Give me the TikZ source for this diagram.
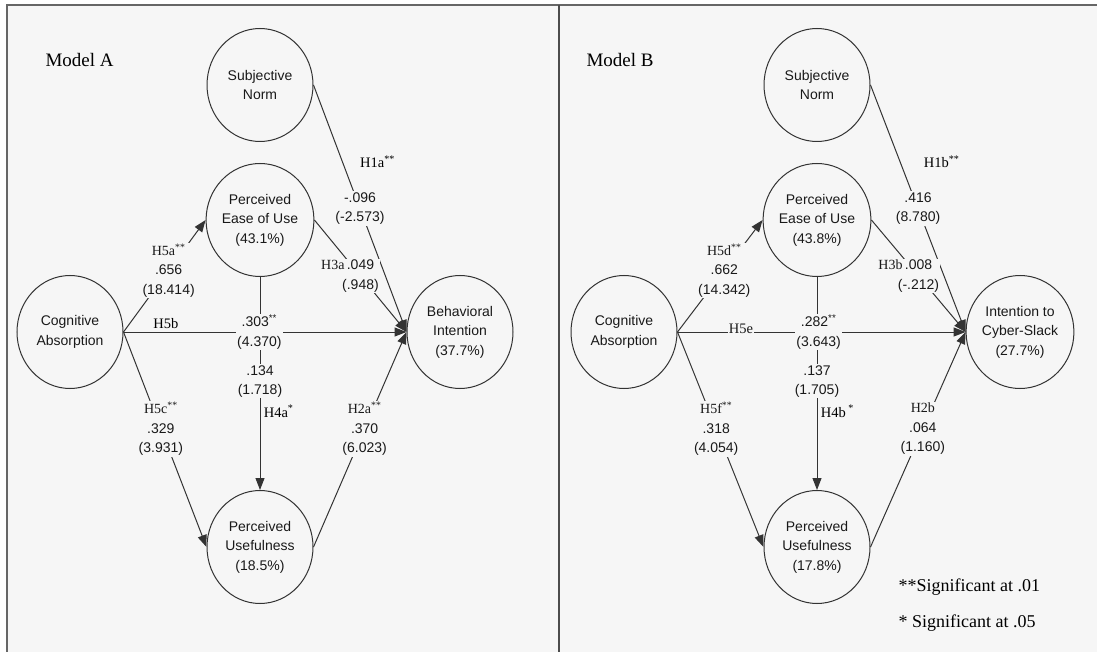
\documentclass[tikz,border=0pt]{standalone}
\usepackage{fontspec}
\setmainfont{Liberation Serif}
\setsansfont{Liberation Sans}
\usetikzlibrary{shapes.geometric,arrows.meta}
\definecolor{bg}{gray}{0.965}
\begin{document}
\begin{tikzpicture}[x=1pt,y=-1pt,
  construct/.style={ellipse,draw=black!80,line width=1pt,minimum width=106pt,minimum height=113pt,
    inner sep=0pt,align=center,text=black!90,font=\fontsize{14}{19.5}\selectfont\sffamily},
  link/.style={draw=black!80,line width=1pt},
  arr/.style={link,-{Triangle[length=12pt,width=9pt]}},
  est/.style={fill=bg,inner sep=1pt,align=center,text=black!90,font=\fontsize{14}{19.5}\selectfont\sffamily},
  hyp/.style={text=black,font=\fontsize{14.5}{19.5}\selectfont\rmfamily}]
\useasboundingbox (0,0) rectangle (1097,652);
\fill[bg] (7,5) rectangle (1097,652);
\draw[black!60,line width=1.5pt] (7,652) -- (7,5) -- (1097,5);
\draw[black!70,line width=2.5pt] (559,5) -- (559,652);
% model A
\node[hyp,anchor=west,font=\fontsize{19}{22}\selectfont\rmfamily] (titleA) at (42,60) {Model A};
\node[construct] (snA) at (260,85) {Subjective\\Norm};
\node[construct] (peouA) at (260,220) {Perceived\\Ease of Use\\(43.1\%)};
\node[construct] (caA) at (70,332) {Cognitive\\Absorption};
\node[construct] (biA) at (460,332) {Behavioral\\Intention\\(37.7\%)};
\node[construct] (puA) at (260,547) {Perceived\\Usefulness\\(18.5\%)};
\draw[arr] (snA.east) -- node[hyp,pos=0.31,anchor=west,xshift=14pt] (h1a) {H1a\textsuperscript{**}}
  node[est,pos=0.5] (e1a) {-.096\\(-2.573)} (biA.west);
\draw[arr] (peouA.east) -- node[est,pos=0.5] (e3a) {\llap{\rmfamily H3a\,}.049\\(.948)} (biA.west);
\draw[arr] (caA.east) -- node[est,pos=0.55] (e5a) {{\rmfamily H5a\textsuperscript{**}}\\.656\\(18.414)} (peouA.west);
\draw[arr] (peouA.south) -- node[est,pos=0.49] (e4a) {.134\\(1.718)}
  node[hyp,pos=0.63,right] (h4a) {H4a\textsuperscript{*}} (puA.north);
\draw[arr] (caA.east) -- node[hyp,pos=0.15,above] (h5b) {H5b}
  node[est,pos=0.48] (e5b) {.303\textsuperscript{**}\\(4.370)} (biA.west);
\draw[arr] (caA.east) -- node[est,pos=0.45] (e5c) {{\rmfamily H5c\textsuperscript{**}}\\.329\\(3.931)} (puA.west);
\draw[arr] (puA.east) -- node[est,pos=0.55] (e2a) {{\rmfamily H2a\textsuperscript{**}}\\.370\\(6.023)} (biA.west);
% model B
\node[hyp,anchor=west,font=\fontsize{19}{22}\selectfont\rmfamily] (titleB) at (583,60) {Model B};
\node[construct] (snB) at (817,85) {Subjective\\Norm};
\node[construct] (peouB) at (817,220) {Perceived\\Ease of Use\\(43.8\%)};
\node[construct] (caB) at (624,332) {Cognitive\\Absorption};
\node[construct] (biB) at (1020,332) {Intention to\\Cyber-Slack\\(27.7\%)};
\node[construct] (puB) at (817,547) {Perceived\\Usefulness\\(17.8\%)};
\draw[arr] (snB.east) -- node[hyp,pos=0.31,anchor=west,xshift=20pt] (h1b) {H1b\textsuperscript{**}}
  node[est,pos=0.5] (e1b) {.416\\(8.780)} (biB.west);
\draw[arr] (peouB.east) -- node[est,pos=0.5] (e3b) {\llap{\rmfamily H3b\,}.008\\(-.212)} (biB.west);
\draw[arr] (caB.east) -- node[est,pos=0.55] (e5d) {{\rmfamily H5d\textsuperscript{**}}\\.662\\(14.342)} (peouB.west);
\draw[arr] (peouB.south) -- node[est,pos=0.49] (e4b) {.137\\(1.705)}
  node[hyp,pos=0.63,right] (h4b) {H4b\textsuperscript{ *}} (puB.north);
\draw[arr] (caB.east) -- node[est,pos=0.22,yshift=3pt,font=\fontsize{14.5}{19.5}\selectfont\rmfamily] (h5e) {H5e}
  node[est,pos=0.49] (e5e) {.282\textsuperscript{**}\\(3.643)} (biB.west);
\draw[arr] (caB.east) -- node[est,pos=0.45] (e5f) {{\rmfamily H5f\textsuperscript{**}}\\.318\\(4.054)} (puB.west);
\draw[arr] (puB.east) -- node[est,pos=0.55] (e2b) {{\rmfamily H2b}\\.064\\(1.160)} (biB.west);
\node[hyp,anchor=west,font=\fontsize{18}{22}\selectfont\rmfamily] (sig1) at (895,587) {**Significant at .01};
\node[hyp,anchor=west,font=\fontsize{18}{22}\selectfont\rmfamily] (sig5) at (895,623) {* Significant at .05};
\end{tikzpicture}
\end{document}
